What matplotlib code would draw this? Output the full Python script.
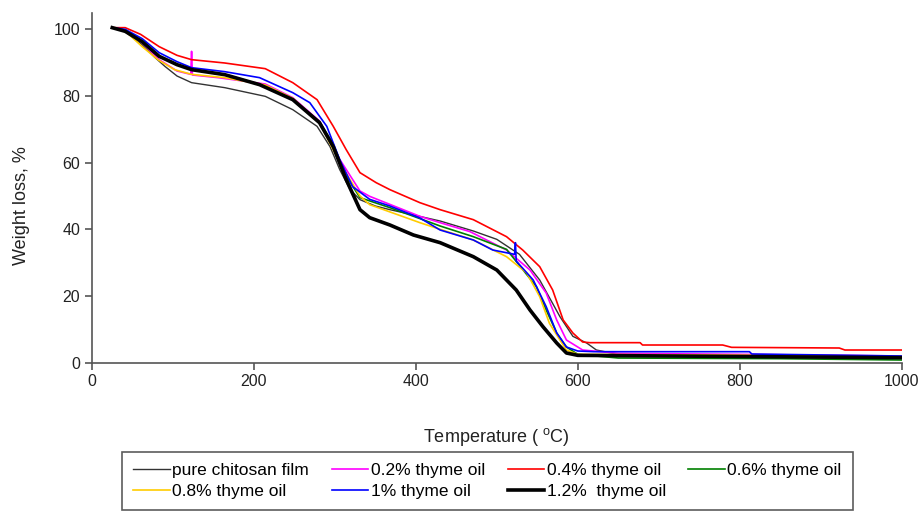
import matplotlib
matplotlib.use('Agg')
import matplotlib.pyplot as plt

plt.rcParams['font.family'] = ['Liberation Sans', 'DejaVu Sans']

# TGA curves (temperature in C, weight %)
pure_t = [25, 40, 62, 78, 90, 105, 123, 164, 214, 248, 278, 294, 306, 319, 331, 350, 368, 430, 471, 500, 528, 553, 578, 594, 611, 623, 650, 800, 1000]
pure_w = [100.5, 99.5, 95.4, 91.5, 88.9, 86, 84, 82.5, 79.9, 75.9, 70.9, 64.8, 57.9, 51.9, 48.9, 47, 45.9, 42.5, 39.5, 37, 32.5, 24.8, 13.8, 7.9, 5.9, 3.8, 2.5, 2.2, 1.8]

t02 = [25, 41, 62, 83, 105, 122, 123, 124, 156, 214, 248, 281, 306, 331, 343, 405, 430, 467, 512, 541, 561, 574, 586, 606, 650, 800, 1000]
w02 = [100.5, 99.8, 96, 90.9, 87.5, 86.5, 93.4, 86.3, 85.5, 83.6, 79.5, 72.5, 61, 51.5, 49.9, 43.9, 42, 39.3, 33.8, 27.8, 20.9, 12.8, 6.8, 3.8, 2.8, 2.5, 2.0]

t04 = [25, 41, 60, 83, 105, 123, 164, 214, 248, 278, 298, 314, 331, 351, 368, 405, 430, 471, 512, 532, 553, 569, 582, 594, 606, 615, 677, 680, 779, 790, 923, 930, 1000]
w04 = [100.5, 100.5, 98.5, 94.8, 92.2, 90.9, 89.9, 88.2, 84, 78.9, 70.9, 63.9, 57, 54, 51.9, 48, 45.9, 42.9, 37.8, 33.8, 28.8, 21.8, 12.8, 8.9, 6.2, 6.0, 6.0, 5.3, 5.3, 4.6, 4.4, 3.8, 3.8]

t06 = [25, 41, 62, 83, 105, 123, 164, 214, 248, 281, 298, 314, 331, 368, 430, 471, 512, 549, 561, 574, 586, 600, 650, 850, 1000]
w06 = [100.5, 99.5, 96.5, 92, 89.5, 88, 86.5, 83, 79.2, 72.3, 65.5, 56, 49.5, 46.5, 41, 37.8, 34, 22.8, 15.8, 8.9, 4.7, 2.5, 1.4, 1.2, 0.8]

t08 = [25, 41, 62, 82, 102, 123, 164, 214, 248, 281, 306, 331, 343, 405, 430, 471, 512, 537, 553, 565, 578, 586, 600, 1000]
w08 = [100.5, 99.5, 94.8, 90.8, 87.9, 86.5, 85.5, 83.3, 79.3, 72, 60, 50, 47.4, 42, 40, 36.8, 31.8, 26.9, 19.8, 11.8, 6.8, 3.8, 2.5, 2.0]

t10 = [25, 41, 62, 83, 105, 123, 164, 207, 248, 269, 290, 306, 322, 343, 368, 405, 430, 471, 495, 522, 523, 524, 545, 561, 574, 586, 600, 620, 812, 815, 1000]
w10 = [100.5, 100, 97.2, 93, 90.3, 88.5, 87.3, 85.5, 81, 78, 70.9, 60.9, 52.8, 49, 47, 43.4, 39.8, 36.8, 33.8, 32.5, 36, 30.5, 24.8, 16.8, 8.9, 4.7, 3.5, 3.3, 3.3, 2.6, 2.0]

t12 = [25, 41, 62, 83, 105, 123, 164, 207, 248, 281, 298, 314, 331, 343, 368, 397, 430, 471, 500, 524, 541, 557, 574, 586, 600, 1000]
w12 = [100.5, 99.4, 96.3, 91.9, 89.4, 87.9, 86.4, 83.4, 78.9, 72, 64.8, 54.9, 45.9, 43.5, 41.3, 38.3, 36, 31.8, 27.8, 21.8, 15.8, 10.8, 5.9, 2.9, 2.2, 1.5]

series = [
    ('pure chitosan film', pure_t, pure_w, '#333333', 1.0),
    ('0.2% thyme oil', t02, w02, '#ff00ff', 1.2),
    ('0.4% thyme oil', t04, w04, '#ff0000', 1.2),
    ('0.6% thyme oil', t06, w06, '#008000', 1.2),
    ('0.8% thyme oil', t08, w08, '#ffcc00', 1.2),
    ('1% thyme oil', t10, w10, '#0000ff', 1.2),
    ('1.2%  thyme oil', t12, w12, '#000000', 2.6),
]


def main():
    fig = plt.figure(figsize=(9.2, 5.17), dpi=100)
    ax = fig.add_axes([0.1, 0.2985, 0.88, 0.677])

    lines = []
    for label, t, w, color, lw in series:
        line, = ax.plot(t, w, color=color, lw=lw, label=label)
        lines.append(line)

    ax.set_xlim(0, 1000)
    ax.set_ylim(0, 105)
    ax.set_xticks(range(0, 1001, 200))
    ax.set_yticks(range(0, 101, 20))
    for side in ('top', 'right'):
        ax.spines[side].set_visible(False)
    for side in ('left', 'bottom'):
        ax.spines[side].set_color('#555555')
        ax.spines[side].set_linewidth(1.2)
    ax.tick_params(direction='out', length=5, width=1.2, color='#555555',
                   labelsize=11.5, labelcolor='#222222')
    ax.set_xlabel('Temperature ( $^{\\mathregular{o}}$C)', fontsize=13, labelpad=26, color='#222222')
    ax.set_ylabel('Weight loss, %', fontsize=13, color='#222222')
    ax.yaxis.set_label_coords(-0.077, 0.45)

    # legend is filled row by row in the reference
    order = [0, 4, 1, 5, 2, 6, 3]
    leg = fig.legend([lines[i] for i in order], [series[i][0] for i in order],
                     loc='upper left', bbox_to_anchor=(122 / 920, 1 - 452 / 517),
                     borderaxespad=0, ncol=4, fontsize=12.5, frameon=True, fancybox=False,
                     handlelength=2.1, handletextpad=0.15, columnspacing=1.3,
                     labelspacing=0.3, borderpad=0.65)
    leg.get_frame().set_edgecolor('#333333')
    leg.get_frame().set_linewidth(1.2)

    fig.savefig('out.png', dpi=100)


if __name__ == '__main__':
    main()
